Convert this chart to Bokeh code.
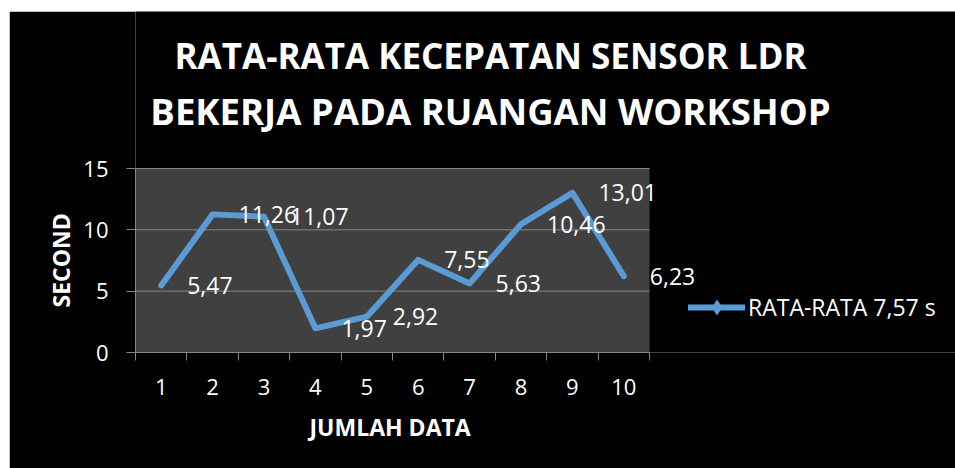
from bokeh.plotting import figure
from bokeh.models import (ColumnDataSource, Range1d, FixedTicker, LabelSet, Label,
                          Legend, LegendItem, BoxAnnotation, Title)
from bokeh.core.properties import value
from bokeh.embed import file_html
from bokeh.resources import INLINE

# ---- data ----
jumlah_data = [1, 2, 3, 4, 5, 6, 7, 8, 9, 10]
waktu = [5.47, 11.26, 11.07, 1.97, 2.92, 7.55, 5.63, 10.46, 13.01, 6.23]
y_ticks = [0, 5, 10, 15]
title_lines = ["RATA-RATA KECEPATAN SENSOR LDR", "BEKERJA PADA RUANGAN WORKSHOP"]
series_name = "RATA-RATA 7,57 s"
x_title = "JUMLAH DATA"
y_title = "SECOND"

labels = [f"{v:.2f}".replace(".", ",") for v in waktu]

FONT = "Open Sans"
BLUE = "#5B9BD5"
GRID = "#868686"
PLOT_BG = "#404040"

# ---- layout geometry (pixels) ----
W, H = 946, 457
LEFT, BOTTOM = 126, 116
AREA_W, AREA_H = 514, 184          # size of the grey plot area
frame_w, frame_h = W - LEFT, H - BOTTOM

x0, x1 = jumlah_data[0] - 0.5, jumlah_data[-1] + 0.5
y0, y1 = y_ticks[0], y_ticks[-1]
x_end = x0 + (x1 - x0) * frame_w / AREA_W
y_end = y0 + (y1 - y0) * frame_h / AREA_H

src = ColumnDataSource(dict(x=jumlah_data, y=waktu, label=labels))

p = figure(width=W, height=H, output_backend="svg", toolbar_location=None,
           x_range=Range1d(x0, x_end), y_range=Range1d(y0, y_end),
           min_border_left=LEFT, min_border_right=0, min_border_top=0,
           min_border_bottom=BOTTOM)
p.margin = (11, 0, 0, 9)
p.border_fill_color = "black"
p.background_fill_color = "black"
p.outline_line_color = None
p.xgrid.visible = False
p.ygrid.visible = False

# grey plot area
p.add_layout(BoxAnnotation(left=x0, right=x1, bottom=y0, top=y1,
                           fill_color=PLOT_BG, fill_alpha=1, line_color=None,
                           level="underlay"))
# horizontal grid lines
gy = y_ticks[1:]
p.segment(x0=[x0] * len(gy), x1=[x1] * len(gy), y0=gy, y1=gy,
          line_color=GRID, line_width=1)

# y axis
ya = p.yaxis[0]
ya.bounds = (y0, y1)
ya.ticker = FixedTicker(ticks=y_ticks)
ya.axis_line_color = GRID
ya.major_tick_line_color = GRID
ya.major_tick_out = 9
ya.major_tick_in = 0
ya.minor_tick_line_color = None
ya.major_label_text_color = "white"
ya.major_label_text_font = FONT
ya.major_label_text_font_size = "22px"
ya.major_label_standoff = 18

# x axis: labels at categories, tick marks between categories
xa = p.xaxis[0]
xa.bounds = (x0, x1)
xa.ticker = FixedTicker(ticks=jumlah_data,
                        minor_ticks=[c - 0.5 for c in jumlah_data] + [x1])
xa.axis_line_color = GRID
xa.major_tick_line_color = None
xa.major_tick_out = 8
xa.major_tick_in = 0
xa.minor_tick_line_color = GRID
xa.minor_tick_out = 8
xa.minor_tick_in = 0
xa.major_label_text_color = "white"
xa.major_label_text_font = FONT
xa.major_label_text_font_size = "22px"
xa.major_label_standoff = 18

# axis titles (positioned along the grey plot area)
p.add_layout(Title(text=x_title, align="left", offset=174, standoff=22,
                   text_color="white", text_font=FONT, text_font_style="bold",
                   text_font_size="23px"), "below")
p.add_layout(Title(text=y_title, align="left", offset=45, standoff=8,
                   text_color="white", text_font=FONT, text_font_style="bold",
                   text_font_size="23px"), "left")

# series
line_r = p.line("x", "y", source=src, line_color=BLUE, line_width=6,
                line_join="round", line_cap="round")
# diamond marker shown only in the legend (zero size on the chart)
marker_r = p.scatter("x", "y", source=src, marker="diamond", size=0,
                     fill_color=BLUE, line_color=None)

# data labels (placed to the right of each point)
p.add_layout(LabelSet(x="x", y="y", text="label", source=src, x_offset=26,
                      text_align="left", text_baseline="middle",
                      text_color="white", text_font=value(FONT),
                      text_font_size="23px"))

# legend
legend = Legend(items=[LegendItem(label=series_name, renderers=[line_r, marker_r])],
                location=(553, 25), orientation="vertical",
                background_fill_alpha=0, border_line_color=None,
                padding=0, margin=0, spacing=0,
                glyph_width=57, glyph_height=40, label_height=22, label_standoff=3,
                label_text_color="white", label_text_font=FONT,
                label_text_font_size="23px")
p.add_layout(legend, "center")

# title lines
for txt, yy, fs in zip(title_lines, [297, 242], ["35px", "36.5px"]):
    p.add_layout(Label(x=355, y=yy, x_units="screen", y_units="screen", text=txt,
                       text_align="center", text_baseline="middle",
                       text_color="white", text_font=FONT, text_font_style="bold",
                       text_font_size=fs))

open("out.html", "w").write(file_html(p, INLINE))
